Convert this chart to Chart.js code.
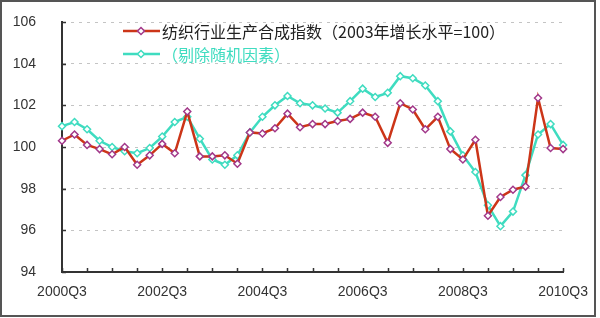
<!DOCTYPE html>
<html>
<head>
<meta charset="utf-8">
<script src="https://cdn.jsdelivr.net/npm/chart.js@4.4.0/dist/chart.umd.min.js"></script>
<style>
  html, body { margin: 0; padding: 0; background: #fff; }
  #wrap { width: 600px; height: 318px; }
</style>
</head>
<body>
<div id="wrap"><canvas id="chart" width="600" height="318"></canvas></div>
<script>
// ---------- Data ----------
const quarters = [
  '2000Q3','2000Q4','2001Q1','2001Q2','2001Q3','2001Q4','2002Q1','2002Q2',
  '2002Q3','2002Q4','2003Q1','2003Q2','2003Q3','2003Q4','2004Q1','2004Q2',
  '2004Q3','2004Q4','2005Q1','2005Q2','2005Q3','2005Q4','2006Q1','2006Q2',
  '2006Q3','2006Q4','2007Q1','2007Q2','2007Q3','2007Q4','2008Q1','2008Q2',
  '2008Q3','2008Q4','2009Q1','2009Q2','2009Q3','2009Q4','2010Q1','2010Q2',
  '2010Q3'
];
const shownLabels = ['2000Q3','2002Q3','2004Q3','2006Q3','2008Q3','2010Q3'];

const indexRaw = [
  100.3, 100.6, 100.1, 99.9, 99.65, 100.0, 99.15, 99.6,
  100.15, 99.7, 101.7, 99.55, 99.55, 99.6, 99.2, 100.7,
  100.65, 100.9, 101.6, 100.95, 101.1, 101.1, 101.25, 101.35,
  101.65, 101.45, 100.2, 102.1, 101.8, 100.85, 101.45, 99.9,
  99.4, 100.35, 96.7, 97.6, 97.95, 98.1, 102.35, 99.95,
  99.9
];
const indexAdj = [
  101.0, 101.2, 100.85, 100.3, 100.0, 99.8, 99.7, 99.95,
  100.5, 101.2, 101.45, 100.4, 99.4, 99.15, 99.6, 100.7,
  101.45, 102.0, 102.45, 102.1, 102.0, 101.85, 101.65, 102.2,
  102.8, 102.4, 102.6, 103.4, 103.3, 102.95, 102.2, 100.75,
  99.6, 98.8, 97.2, 96.2, 96.9, 98.65, 100.6, 101.1,
  100.1
];

const yTicks = [94, 96, 98, 100, 102, 104, 106];

const seriesNames = ['纺织行业生产合成指数（2003年增长水平=100）', '（剔除随机因素）'];

// ---------- Styles ----------
const RED = '#cc3518';
const RED_MARK = '#a2388a';
const CYAN = '#3fdcc0';
const AXIS = '#333';

// ---------- Plugins ----------
const frame = {
  id: 'frame',
  beforeDraw(c) {
    const ctx = c.ctx;
    ctx.save();
    ctx.fillStyle = '#fff';
    ctx.fillRect(0, 0, c.width, c.height);
    ctx.restore();
  },
  afterDraw(c) {
    const ctx = c.ctx;
    ctx.save();
    ctx.strokeStyle = '#555';
    ctx.lineWidth = 2;
    ctx.strokeRect(1, 1, 594, 315);
    ctx.restore();
  }
};

// small tick marks pointing into the plot, like the original
const innerTicks = {
  id: 'innerTicks',
  afterDraw(c) {
    const { ctx, scales: { x, y } } = c;
    ctx.save();
    ctx.strokeStyle = AXIS;
    ctx.lineWidth = 1.5;
    ctx.beginPath();
    quarters.forEach((q, i) => {
      if (i % 2) return;
      const px = Math.round(x.getPixelForValue(i)) + 0.5;
      ctx.moveTo(px, y.bottom);
      ctx.lineTo(px, y.bottom - 4);
    });
    yTicks.forEach(v => {
      const py = Math.round(y.getPixelForValue(v)) + 0.5;
      ctx.moveTo(x.left, py);
      ctx.lineTo(x.left + 4, py);
    });
    ctx.stroke();
    ctx.restore();
  }
};

// legend drawn inside the top of the plot
const legendBox = {
  id: 'legendBox',
  afterDraw(c) {
    const ctx = c.ctx;
    const rows = [
      { text: seriesNames[0], line: RED, mark: RED_MARK, color: '#222', y: 31 },
      { text: seriesNames[1], line: CYAN, mark: CYAN, color: CYAN, y: 54 },
    ];
    ctx.save();
    rows.forEach(r => {
      ctx.strokeStyle = r.line;
      ctx.lineWidth = 2.5;
      ctx.beginPath();
      ctx.moveTo(123, r.y);
      ctx.lineTo(160, r.y);
      ctx.stroke();
      ctx.fillStyle = '#fff';
      ctx.strokeStyle = r.mark;
      ctx.lineWidth = 1.5;
      ctx.beginPath();
      ctx.moveTo(141, r.y - 3.5); ctx.lineTo(144.5, r.y); ctx.lineTo(141, r.y + 3.5); ctx.lineTo(137.5, r.y);
      ctx.closePath();
      ctx.fill();
      ctx.stroke();
      ctx.fillStyle = r.color;
      ctx.font = '16px "Noto Sans CJK SC"';
      ctx.textBaseline = 'middle';
      ctx.fillText(r.text, 162, r.y + 1);
    });
    ctx.restore();
  }
};

// ---------- Chart ----------
const ctx = document.getElementById('chart');

new Chart(ctx, {
  type: 'line',
  data: {
    labels: quarters,
    datasets: [
      {
        label: seriesNames[0],
        data: indexRaw,
        borderColor: RED,
        borderWidth: 2.5,
        pointStyle: 'rectRot',
        pointRadius: 3.5,
        pointBorderWidth: 1.5,
        pointBorderColor: RED_MARK,
        pointBackgroundColor: '#fff',
        tension: 0,
      },
      {
        label: seriesNames[1],
        data: indexAdj,
        borderColor: CYAN,
        borderWidth: 2.5,
        pointStyle: 'rectRot',
        pointRadius: 3.5,
        pointBorderWidth: 1.5,
        pointBorderColor: CYAN,
        pointBackgroundColor: '#fff',
        tension: 0,
      },
    ]
  },
  options: {
    responsive: false,
    animation: false,
    layout: { padding: { left: 0, right: 35, top: 22, bottom: 0 } },
    plugins: {
      legend: { display: false },
      tooltip: { enabled: false },
    },
    scales: {
      x: {
        type: 'category',
        offset: false,
        grid: { display: false, drawTicks: false },
        border: { display: true, color: AXIS, width: 2 },
        ticks: {
          autoSkip: false,
          maxRotation: 0,
          padding: 12,
          color: '#333',
          font: { family: 'Liberation Sans', size: 14 },
          callback: (v, i) => shownLabels.includes(quarters[i]) ? quarters[i] : '',
        },
        afterFit: s => { s.height = 46; },
      },
      y: {
        min: 94,
        max: 106,
        afterBuildTicks: s => { s.ticks = yTicks.map(v => ({ value: v })); },
        grid: { color: '#c4c4c4', lineWidth: 1, drawTicks: false },
        border: { display: true, color: AXIS, width: 2, dash: [3, 5] },
        ticks: {
          padding: 26,
          color: '#333',
          font: { family: 'Liberation Sans', size: 14 },
        },
        // keep the wide label gap from also padding the top
        afterFit: s => { s.width = 62; s.paddingTop = 8; s.paddingBottom = 8; },
      },
    },
  },
  plugins: [frame, innerTicks, legendBox],
});
</script>
</body>
</html>
